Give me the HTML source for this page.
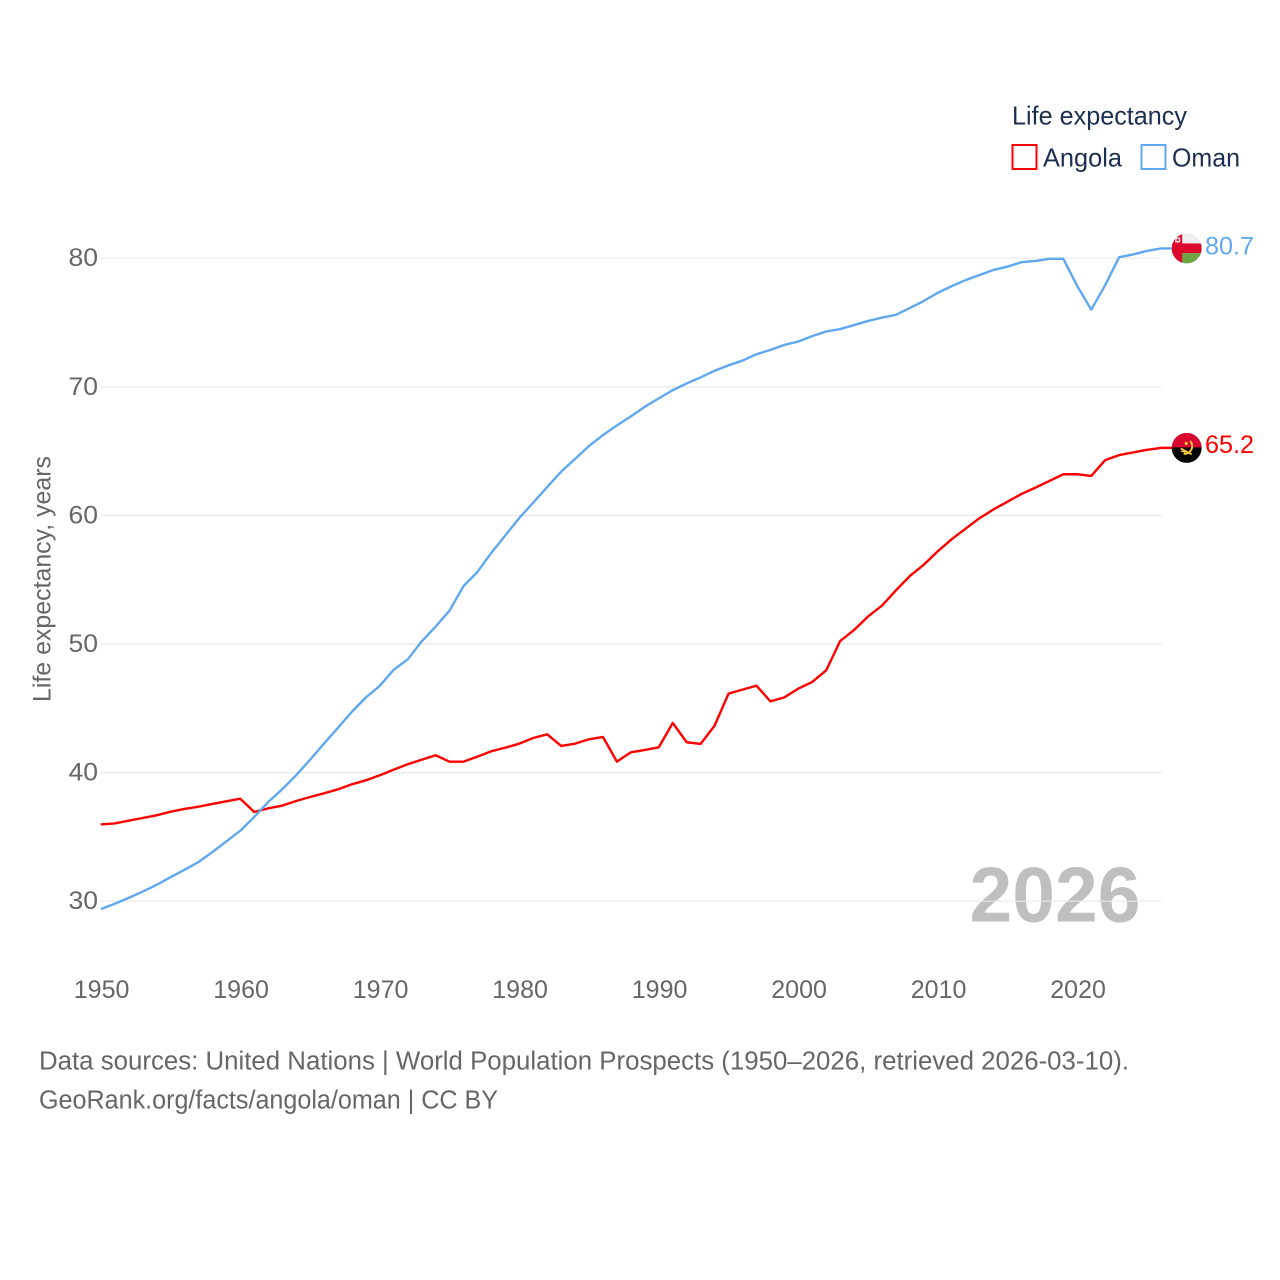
<!DOCTYPE html>
<html lang="en">
<head>
<meta charset="utf-8">
<title>Life expectancy: Angola and Oman</title>
<style>
html,body{margin:0;padding:0;background:#fff;}
svg{display:block;font-family:"Liberation Sans",sans-serif;}
</style>
</head>
<body>
<svg id="chart" xmlns="http://www.w3.org/2000/svg" width="1280" height="1280" viewBox="0 0 1280 1280">
  <rect width="1280" height="1280" fill="#ffffff"/>
  <text x="969.5" y="921.5" font-size="78" font-weight="700" fill="#bfbfbf" textLength="171" lengthAdjust="spacingAndGlyphs">2026</text>
  <g id="grid"></g>
  <g id="y-ticks"></g>
  <g id="x-ticks"></g>
  <text transform="translate(50.5,579) rotate(-90)" text-anchor="middle" font-size="25" fill="#666666" textLength="246" lengthAdjust="spacingAndGlyphs">Life expectancy, years</text>
  <g id="series"></g>
  <g id="flag-oman">
    <defs>
      <clipPath id="clip-oman"><circle cx="0" cy="0" r="15"/></clipPath>
      <clipPath id="clip-angola"><circle cx="0" cy="0" r="15"/></clipPath>
    </defs>
    <g clip-path="url(#clip-oman)">
      <rect x="-15" y="-15" width="30" height="30" fill="#eeeeee"/>
      <rect x="-15" y="4.7" width="30" height="11" fill="#6fa644"/>
      <rect x="-15" y="-5" width="30" height="9.7" fill="#db0a2c"/>
      <rect x="-15" y="-15" width="10.5" height="30" fill="#db0a2c"/>
      <rect x="-11.5" y="-11" width="5" height="5" fill="#f3dfe2"/>
      <rect x="-10" y="-9.5" width="2" height="2" fill="#db0a2c"/>
    </g>
  </g>
  <g id="flag-angola">
    <g clip-path="url(#clip-angola)">
      <rect x="-15" y="-15" width="30" height="15" fill="#d8062f"/>
      <rect x="-15" y="-0.5" width="30" height="15.5" fill="#050505"/>
      <path d="M3.5 -7 A7.8 7.8 0 0 1 -3 6" fill="none" stroke="#f4c63a" stroke-width="2"/>
      <path d="M-6 0.5 L5 6.5" fill="none" stroke="#f4c63a" stroke-width="1.8"/>
      <path d="M-5.5 3 L-1 4.5" fill="none" stroke="#f4c63a" stroke-width="1.6"/>
      <circle cx="-0.5" cy="-4.5" r="1.6" fill="#f4c63a"/>
    </g>
  </g>
  <g id="value-labels"></g>
  <g>
    <text x="1012" y="124.5" font-size="26" fill="#1b2f50" textLength="175" lengthAdjust="spacingAndGlyphs">Life expectancy</text>
    <g>
      <rect x="1012.5" y="145" width="24" height="24" fill="none" stroke="#ff0000" stroke-width="2"/>
      <text x="1043" y="166.5" font-size="26" fill="#1b2f50" textLength="79" lengthAdjust="spacingAndGlyphs">Angola</text>
    </g>
    <g>
      <rect x="1141.5" y="145" width="24" height="24" fill="none" stroke="#5fa8ef" stroke-width="2"/>
      <text x="1172" y="166.5" font-size="26" fill="#1b2f50" textLength="68" lengthAdjust="spacingAndGlyphs">Oman</text>
    </g>
  </g>
  <text x="39" y="1069.5" font-size="25.5" fill="#666666" textLength="1090" lengthAdjust="spacingAndGlyphs">Data sources: United Nations | World Population Prospects (1950–2026, retrieved 2026-03-10).</text>
  <text x="39" y="1108.5" font-size="25.5" fill="#666666" textLength="459" lengthAdjust="spacingAndGlyphs">GeoRank.org/facts/angola/oman | CC BY</text>
</svg>
<script>
const firstYear = 1950;
const angolaValues = [
  35.97,36.05,36.26,36.47,36.68,36.96,37.17,37.35,37.56,37.77,
  37.97,36.94,37.22,37.43,37.79,38.10,38.39,38.70,39.09,39.40,
  39.79,40.23,40.65,41.00,41.35,40.85,40.85,41.24,41.66,41.94,
  42.25,42.69,42.98,42.07,42.25,42.59,42.77,40.85,41.58,41.76,
  41.97,43.86,42.36,42.23,43.65,46.14,46.45,46.76,45.54,45.85,
  46.53,47.05,47.95,50.23,51.09,52.14,52.99,54.17,55.29,56.17,
  57.21,58.15,58.98,59.79,60.47,61.07,61.67,62.16,62.68,63.20,
  63.20,63.07,64.30,64.69,64.90,65.10,65.25
];
const omanValues = [
  29.38,29.80,30.26,30.75,31.27,31.87,32.44,33.04,33.82,34.65,
  35.48,36.55,37.71,38.70,39.79,41.00,42.26,43.48,44.73,45.84,
  46.75,48.00,48.80,50.20,51.35,52.60,54.50,55.60,57.10,58.45,
  59.80,61.00,62.20,63.40,64.40,65.40,66.25,67.00,67.70,68.45,
  69.10,69.74,70.26,70.73,71.25,71.67,72.04,72.53,72.87,73.26,
  73.52,73.94,74.30,74.49,74.80,75.12,75.38,75.60,76.13,76.68,
  77.31,77.83,78.30,78.69,79.09,79.35,79.69,79.79,79.95,79.95,
  77.83,76.00,77.90,80.08,80.29,80.57,80.76
];
const yTickValues = [30,40,50,60,70,80];
const xTickYears = [1950,1960,1970,1980,1990,2000,2010,2020];
const angolaEndLabel = "65.2";
const omanEndLabel = "80.7";

const NS = "http://www.w3.org/2000/svg";
function xScale(year){ return 100.8 + (year - 1950) * 13.95; }
function yScale(value){ return 258.2 + (80 - value) * 12.86; }
function linePoints(values){
  return values.map(function(v,i){ return xScale(firstYear + i).toFixed(2) + "," + yScale(v).toFixed(2); }).join(" ");
}
const gridGroup = document.getElementById("grid");
const yTickGroup = document.getElementById("y-ticks");
const xTickGroup = document.getElementById("x-ticks");
const seriesGroup = document.getElementById("series");
const labelGroup = document.getElementById("value-labels");
const plotRight = xScale(2026) + 0.5;

yTickValues.forEach(function(v){
  const line = document.createElementNS(NS,"line");
  
  
  line.setAttribute("x1", 100.8);
  line.setAttribute("x2", plotRight);
  line.setAttribute("y1", yScale(v));
  line.setAttribute("y2", yScale(v));
  line.setAttribute("stroke", "#e8e8e8");
  line.setAttribute("stroke-width", "1.2");
  gridGroup.appendChild(line);
  const label = document.createElementNS(NS,"text");
  
  
  label.setAttribute("x", 98);
  label.setAttribute("y", yScale(v) + 8);
  label.setAttribute("text-anchor", "end");
  label.setAttribute("font-size", "25");
  label.setAttribute("fill", "#666666");
  label.setAttribute("textLength", "29.5");
  label.setAttribute("lengthAdjust", "spacingAndGlyphs");
  label.textContent = v;
  yTickGroup.appendChild(label);
});

xTickYears.forEach(function(year){
  const label = document.createElementNS(NS,"text");
  
  
  label.setAttribute("x", xScale(year) + 0.8);
  label.setAttribute("y", 998);
  label.setAttribute("text-anchor", "middle");
  label.setAttribute("font-size", "25");
  label.setAttribute("fill", "#666666");
  label.textContent = year;
  xTickGroup.appendChild(label);
});

const angolaLine = document.createElementNS(NS,"polyline");


angolaLine.setAttribute("points", linePoints(angolaValues) + " 1172," + yScale(angolaValues[angolaValues.length-1]).toFixed(2));
angolaLine.setAttribute("fill", "none");
angolaLine.setAttribute("stroke", "#ff0000");
angolaLine.setAttribute("stroke-width", "2.4");
angolaLine.setAttribute("stroke-linejoin", "round");
seriesGroup.appendChild(angolaLine);

const omanLine = document.createElementNS(NS,"polyline");


omanLine.setAttribute("points", linePoints(omanValues) + " 1172," + yScale(omanValues[omanValues.length-1]).toFixed(2));
omanLine.setAttribute("fill", "none");
omanLine.setAttribute("stroke", "#5fa8ef");
omanLine.setAttribute("stroke-width", "2.4");
omanLine.setAttribute("stroke-linejoin", "round");
seriesGroup.appendChild(omanLine);

const omanY = yScale(omanValues[omanValues.length-1]);
const angolaY = yScale(angolaValues[angolaValues.length-1]);
document.getElementById("flag-oman").setAttribute("transform", "translate(1186.7," + omanY.toFixed(2) + ")");
document.getElementById("flag-angola").setAttribute("transform", "translate(1186.7," + angolaY.toFixed(2) + ")");

const omanLabel = document.createElementNS(NS,"text");


omanLabel.setAttribute("x", 1205);
omanLabel.setAttribute("y", omanY + 6);
omanLabel.setAttribute("font-size", "25");
omanLabel.setAttribute("fill", "#5fa8ef");
omanLabel.setAttribute("textLength", "49");
omanLabel.setAttribute("lengthAdjust", "spacingAndGlyphs");
omanLabel.textContent = omanEndLabel;
labelGroup.appendChild(omanLabel);

const angolaLabel = document.createElementNS(NS,"text");


angolaLabel.setAttribute("x", 1205);
angolaLabel.setAttribute("y", angolaY + 5);
angolaLabel.setAttribute("font-size", "25");
angolaLabel.setAttribute("fill", "#ff0000");
angolaLabel.setAttribute("textLength", "49");
angolaLabel.setAttribute("lengthAdjust", "spacingAndGlyphs");
angolaLabel.textContent = angolaEndLabel;
labelGroup.appendChild(angolaLabel);
</script>
</body>
</html>
